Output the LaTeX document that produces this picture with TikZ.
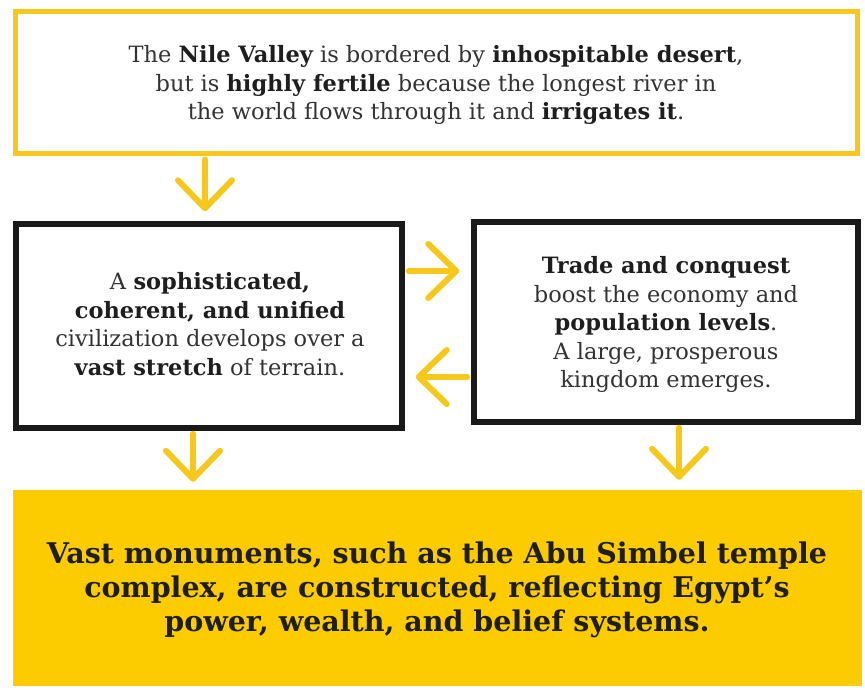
\documentclass[tikz,border=0pt]{standalone}
\usepackage{fontspec}
\setmainfont{DejaVu Serif}
\usetikzlibrary{arrows.meta}
\definecolor{nileyellow}{HTML}{F7C81C}
\definecolor{monufill}{HTML}{FDCC00}
\definecolor{bodytext}{HTML}{333333}
\definecolor{boldtext}{HTML}{1E1E1E}
\newcommand{\hb}[1]{\textbf{\color{boldtext}#1}}
\tikzset{
  x=1pt, y=-1pt,
  yellowbox/.style={draw=nileyellow, line width=5pt, fill=white, inner sep=0pt},
  blackbox/.style={draw=black!90, line width=5.5pt, fill=white, inner sep=0pt},
  monubox/.style={fill=monufill, inner sep=0pt},
  bodytxt/.style={text=bodytext, align=center, font=\fontsize{22.5}{28.5}\selectfont},
  bigtxt/.style={text=boldtext, align=center, font=\fontsize{28.5}{34}\selectfont\bfseries},
  flow/.style={draw=nileyellow, line width=6pt, line cap=round,
    -{Straight Barb[length=28pt,width=54pt,line cap=round,line join=round]}},
}
\begin{document}
\begin{tikzpicture}
\useasboundingbox (0,0) rectangle (865,690);
% boxes
\node[yellowbox, minimum width=842pt, minimum height=142pt] (top) at (436,83) {};
\node[bodytxt] (toptext) at (436,85) {The \hb{Nile Valley} is bordered by \hb{inhospitable desert},\\
but is \hb{highly fertile} because the longest river in\\
the world flows through it and \hb{irrigates it}.};

\node[blackbox, minimum width=386pt, minimum height=204pt] (left) at (209,326) {};
\node[bodytxt] (lefttext) at (210,324) {A \hb{sophisticated,}\\
\hb{coherent, and unified}\\
civilization develops over a\\
\hb{vast stretch} of terrain.};

\node[blackbox, minimum width=384pt, minimum height=200pt] (right) at (666,322) {};
\node[bodytxt] (righttext) at (666,324.5) {\hb{Trade and conquest}\\
boost the economy and\\
\hb{population levels}.\\
A large, prosperous\\
kingdom emerges.};

\node[monubox, minimum width=849pt, minimum height=196pt] (monu) at (437.5,588) {};
\node[bigtxt] (monutext) at (437,590) {Vast monuments, such as the Abu Simbel temple\\
complex, are constructed, reflecting Egypt’s\\
power, wealth, and belief systems.};

% connectors
\draw[flow] ([xshift=-231pt,yshift=-3pt]top.south) -- ([xshift=-4pt,yshift=10pt]left.north);
\draw[flow] ([xshift=4pt,yshift=55pt]left.east) -- ([xshift=-12pt,yshift=51pt]right.west);
\draw[flow] ([xshift=-4pt,yshift=-55pt]right.west) -- ([xshift=11pt,yshift=-51pt]left.east);
\draw[flow] ([xshift=-16pt,yshift=-3pt]left.south) -- ([xshift=-244.5pt,yshift=8pt]monu.north);
\draw[flow] ([xshift=13pt,yshift=-3pt]right.south) -- ([xshift=241.5pt,yshift=10pt]monu.north);
\end{tikzpicture}
\end{document}
